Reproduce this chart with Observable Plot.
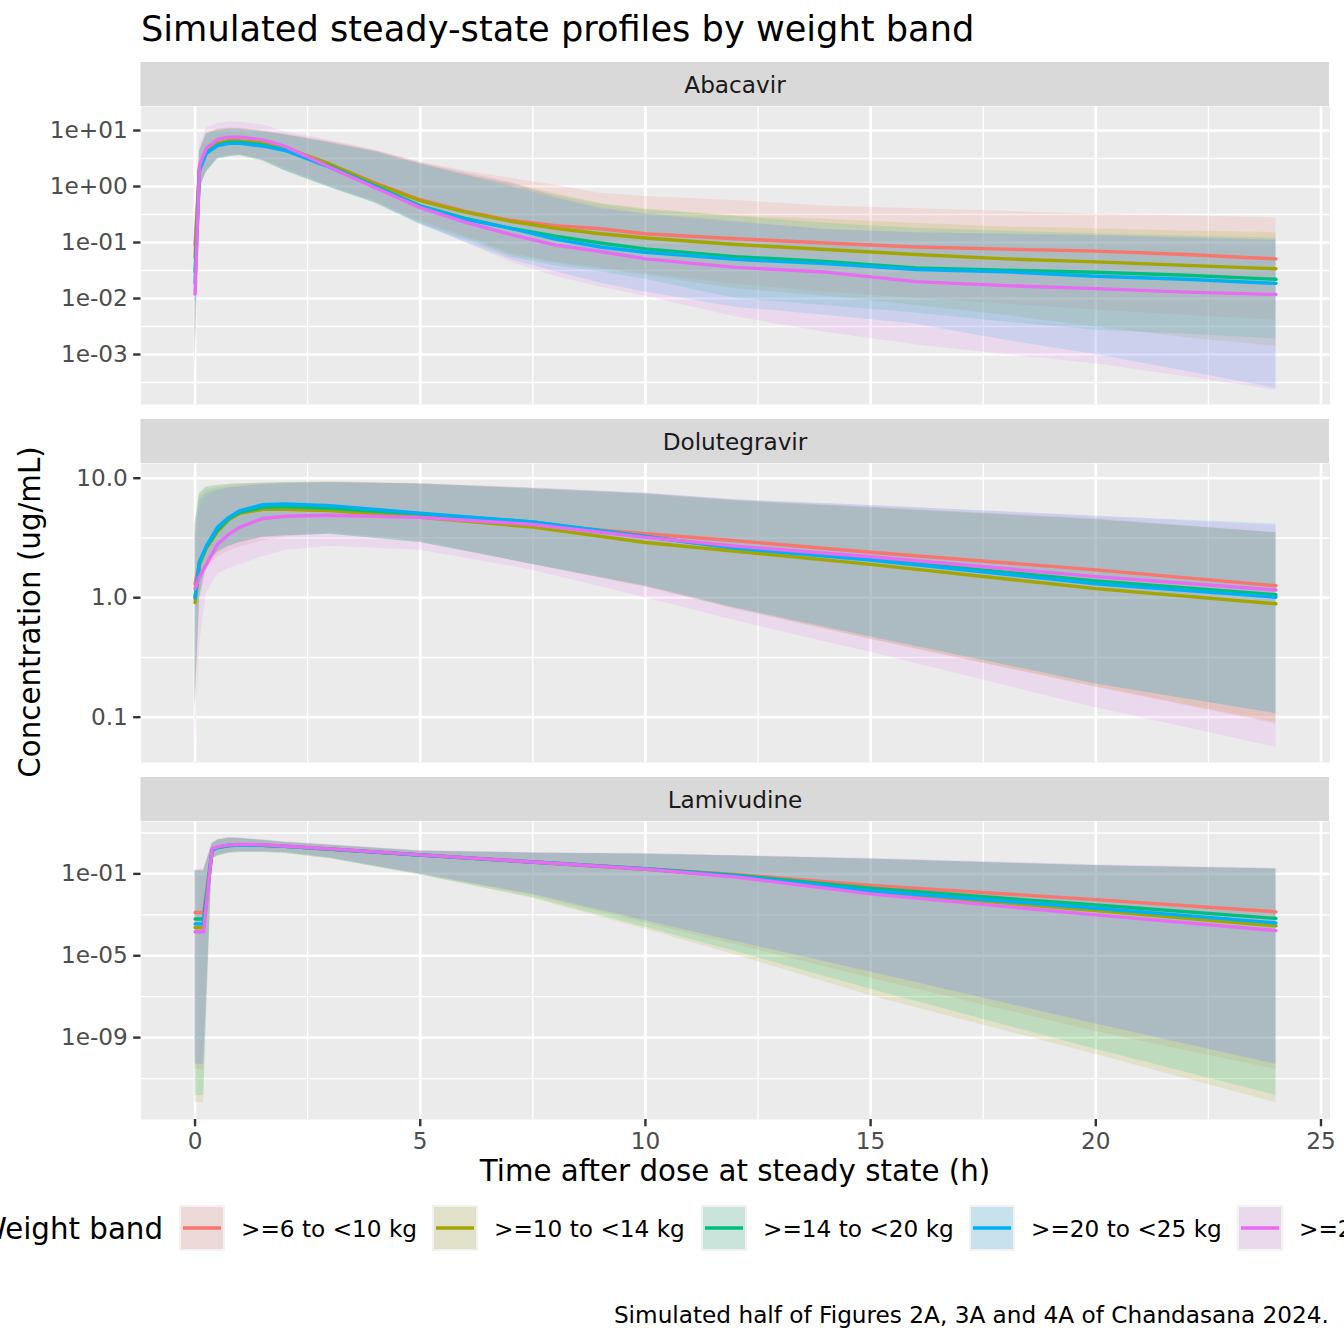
<!DOCTYPE html>
<html><head><meta charset="utf-8">
<script src="https://cdn.jsdelivr.net/npm/d3@7"></script>
<script src="https://cdn.jsdelivr.net/npm/@observablehq/plot@0.6"></script>
<style>
html,body{margin:0;padding:0;background:#fff;overflow:hidden;}
#root{position:relative;width:1344px;height:1344px;overflow:hidden;background:#fff;}
</style></head><body><div id="root"></div>
<script>
// ---------- categories ----------
const bands = [">=6 to <10 kg", ">=10 to <14 kg", ">=14 to <20 kg", ">=20 to <25 kg", ">=25 to <35 kg"];
const bandColors = ["#F8766D", "#A3A500", "#00BF7D", "#00B0F6", "#E76BF3"];
const drugs = ["Abacavir", "Dolutegravir", "Lamivudine"];
const xTicks = [0, 5, 10, 15, 20, 25];
const xMinorTicks = [2.5, 7.5, 12.5, 17.5, 22.5];

// ---------- Abacavir ----------
const abacavirTime = [0, 0.1, 0.25, 0.5, 0.75, 1, 1.5, 2, 3, 4, 5, 6, 7, 8, 9, 10, 12, 14, 16, 18, 20, 22, 24];
const abacavirMedian = [
  [0.09, 2.2, 4.5, 5.9, 6.5, 6.4, 6.0, 4.9, 2.5, 1.15, 0.58, 0.36, 0.25, 0.20, 0.176, 0.143, 0.117, 0.098, 0.083, 0.076, 0.070, 0.061, 0.051],
  [0.054, 2.2, 4.5, 5.9, 6.6, 6.5, 6.1, 4.9, 2.5, 1.12, 0.56, 0.35, 0.24, 0.18, 0.143, 0.12, 0.092, 0.075, 0.061, 0.051, 0.045, 0.039, 0.034],
  [0.03, 2.0, 4.0, 5.5, 6.1, 6.1, 5.5, 4.5, 2.3, 1.02, 0.45, 0.27, 0.18, 0.13, 0.098, 0.077, 0.056, 0.046, 0.035, 0.032, 0.0295, 0.026, 0.022],
  [0.019, 2.0, 3.9, 5.4, 5.9, 5.9, 5.3, 4.4, 2.2, 1.0, 0.44, 0.26, 0.18, 0.115, 0.083, 0.067, 0.050, 0.042, 0.033, 0.030, 0.025, 0.022, 0.0186],
  [0.012, 2.4, 4.8, 6.9, 7.6, 7.6, 6.8, 5.2, 2.2, 0.95, 0.42, 0.23, 0.14, 0.09, 0.069, 0.051, 0.036, 0.0296, 0.020, 0.017, 0.015, 0.013, 0.0118]
];
const abacavirUpper = [
  [0.3, 4.4, 9.0, 10.5, 11, 11, 10, 8.7, 6.4, 4.4, 2.7, 1.9, 1.4, 1.05, 0.76, 0.66, 0.56, 0.45, 0.40, 0.36, 0.32, 0.30, 0.275],
  [0.25, 4.4, 9.0, 10.5, 11, 10.8, 9.8, 8.5, 6.2, 4.3, 2.6, 1.7, 1.15, 0.75, 0.50, 0.40, 0.30, 0.26, 0.22, 0.19, 0.176, 0.16, 0.15],
  [0.2, 4.2, 8.5, 10, 10.5, 10.5, 9.5, 8.3, 6.0, 4.2, 2.5, 1.6, 1.1, 0.7, 0.48, 0.38, 0.29, 0.22, 0.18, 0.16, 0.143, 0.13, 0.12],
  [0.15, 4.2, 8.5, 10, 10.5, 10.5, 9.5, 8.3, 6.0, 4.1, 2.5, 1.6, 1.0, 0.62, 0.40, 0.32, 0.23, 0.17, 0.15, 0.14, 0.133, 0.12, 0.11],
  [0.15, 5.5, 11, 13.5, 14, 14, 12.5, 9.5, 6.6, 4.5, 2.7, 1.8, 1.2, 0.65, 0.42, 0.33, 0.24, 0.17, 0.15, 0.14, 0.133, 0.12, 0.11]
];
const abacavirLower = [
  [0.002, 1.0, 1.9, 3.3, 3.6, 3.7, 3.0, 2.1, 1.0, 0.55, 0.24, 0.13, 0.065, 0.045, 0.035, 0.028, 0.018, 0.013, 0.010, 0.008, 0.0062, 0.005, 0.0041],
  [0.001, 0.9, 1.8, 3.1, 3.4, 3.5, 2.8, 1.9, 0.95, 0.52, 0.22, 0.12, 0.06, 0.042, 0.033, 0.026, 0.015, 0.011, 0.0075, 0.005, 0.0031, 0.002, 0.0014],
  [0.0008, 0.9, 1.8, 3.1, 3.4, 3.6, 2.9, 1.9, 0.95, 0.50, 0.21, 0.11, 0.055, 0.038, 0.03, 0.022, 0.010, 0.0075, 0.0055, 0.0038, 0.0027, 0.0023, 0.0019],
  [0.0005, 0.9, 1.8, 3.1, 3.4, 3.6, 2.9, 1.9, 0.95, 0.50, 0.21, 0.10, 0.05, 0.03, 0.019, 0.013, 0.007, 0.005, 0.0035, 0.0018, 0.001, 0.0005, 0.00025],
  [0.0004, 0.9, 1.9, 3.2, 3.5, 3.7, 3.0, 2.0, 1.0, 0.52, 0.22, 0.10, 0.045, 0.025, 0.016, 0.011, 0.0047, 0.0025, 0.0015, 0.001, 0.00068, 0.0004, 0.00023]
];
const abacavirTicks = [1e-3, 1e-2, 1e-1, 1, 10];
const abacavirTickLabels = ["1e-03", "1e-02", "1e-01", "1e+00", "1e+01"];

// ---------- Dolutegravir ----------
const dolutegravirTime = [0, 0.1, 0.25, 0.5, 0.75, 1, 1.5, 2, 3, 5, 7.5, 10, 12, 15, 20, 24];
const dolutegravirMedian = [
  [1.3, 2.0, 2.6, 3.6, 4.5, 5.1, 5.5, 5.5, 5.4, 5.0, 4.1, 3.43, 3.0, 2.4, 1.71, 1.26],
  [0.91, 1.9, 2.6, 3.6, 4.5, 5.1, 5.5, 5.5, 5.37, 4.7, 3.9, 2.9, 2.45, 1.9, 1.19, 0.89],
  [1.0, 2.0, 2.65, 3.7, 4.6, 5.2, 5.7, 5.8, 5.6, 5.0, 4.3, 3.25, 2.6, 2.1, 1.38, 1.06],
  [1.0, 2.0, 2.7, 3.9, 4.7, 5.36, 6.0, 6.1, 5.9, 5.1, 4.3, 3.25, 2.6, 2.07, 1.31, 1.01],
  [1.19, 1.5, 1.9, 2.8, 3.4, 3.9, 4.6, 4.8, 4.9, 4.7, 4.1, 3.2, 2.7, 2.2, 1.5, 1.16]
];
const dolutegravirUpper = [
  [4.0, 7.0, 8.0, 8.3, 8.6, 8.8, 9.0, 9.1, 9.3, 9.0, 8.2, 7.4, 6.5, 5.7, 4.6, 3.5],
  [4.2, 7.5, 8.5, 8.7, 8.9, 9.0, 9.1, 9.2, 9.3, 9.0, 8.2, 7.4, 6.5, 5.7, 4.5, 3.5],
  [4.2, 7.5, 8.4, 8.7, 8.9, 9.0, 9.1, 9.2, 9.2, 8.9, 8.1, 7.3, 6.4, 5.6, 4.5, 3.5],
  [3.5, 6.5, 7.5, 8.0, 8.3, 8.5, 8.8, 9.0, 9.2, 8.9, 8.2, 7.5, 6.6, 5.9, 4.8, 4.15],
  [3.0, 5.5, 7.0, 7.8, 8.2, 8.5, 8.8, 9.0, 9.2, 9.0, 8.3, 7.5, 6.6, 5.9, 4.8, 4.0]
];
const dolutegravirLower = [
  [0.12, 0.9, 1.7, 2.2, 2.45, 2.65, 3.0, 3.2, 3.5, 3.0, 1.9, 1.23, 0.81, 0.45, 0.178, 0.088],
  [0.12, 1.0, 1.9, 2.4, 2.7, 2.9, 3.2, 3.3, 3.4, 2.9, 1.9, 1.23, 0.8, 0.45, 0.18, 0.09],
  [0.12, 1.0, 1.9, 2.4, 2.7, 2.9, 3.2, 3.3, 3.4, 2.9, 1.9, 1.25, 0.82, 0.47, 0.19, 0.107],
  [0.12, 1.0, 1.9, 2.4, 2.7, 2.9, 3.2, 3.3, 3.4, 2.9, 1.9, 1.25, 0.82, 0.47, 0.19, 0.107],
  [0.05, 0.4, 1.08, 1.58, 1.75, 1.9, 2.2, 2.5, 2.7, 2.5, 1.7, 1.0, 0.64, 0.35, 0.12, 0.056]
];
const dolutegravirTicks = [0.1, 1, 10];
const dolutegravirTickLabels = ["0.1", "1.0", "10.0"];

// ---------- Lamivudine ----------
const lamivudineTime = [0, 0.19, 0.38, 0.5, 0.75, 1, 1.5, 2, 3, 5, 7.5, 10, 12, 15, 20, 24];
const lamivudineMedian = [
  [1.3e-3, 1.3e-3, 1.6, 2.0, 2.5, 2.65, 2.55, 2.25, 1.65, 0.86, 0.39, 0.18, 0.095, 0.027, 0.0055, 0.0014],
  [2.4e-4, 2.4e-4, 1.5, 1.95, 2.45, 2.6, 2.5, 2.2, 1.6, 0.83, 0.37, 0.17, 0.076, 0.0135, 0.0016, 2.9e-4],
  [6.3e-4, 6.3e-4, 1.5, 1.95, 2.45, 2.6, 2.5, 2.2, 1.62, 0.84, 0.38, 0.178, 0.087, 0.020, 0.003, 6.7e-4],
  [3.6e-4, 3.6e-4, 1.5, 1.95, 2.45, 2.6, 2.5, 2.2, 1.62, 0.84, 0.38, 0.175, 0.079, 0.015, 0.0021, 4e-4],
  [1.5e-4, 1.5e-4, 1.7, 2.1, 2.6, 2.75, 2.65, 2.3, 1.66, 0.85, 0.38, 0.17, 0.071, 0.0105, 0.001, 1.7e-4]
];
const lamivudineUpper = [
  [0.145, 0.145, 3.0, 4.5, 5.6, 5.4, 4.4, 3.5, 2.5, 1.3, 1.05, 0.93, 0.75, 0.53, 0.25, 0.17],
  [0.14, 0.14, 2.9, 4.4, 5.5, 5.3, 4.3, 3.4, 2.5, 1.28, 1.03, 0.92, 0.74, 0.52, 0.25, 0.17],
  [0.14, 0.14, 2.9, 4.4, 5.5, 5.3, 4.3, 3.4, 2.5, 1.28, 1.03, 0.92, 0.74, 0.52, 0.25, 0.17],
  [0.15, 0.15, 3.0, 4.5, 5.6, 5.4, 4.4, 3.5, 2.5, 1.3, 1.05, 0.95, 0.76, 0.54, 0.26, 0.176],
  [0.17, 0.17, 3.3, 4.9, 6.0, 5.8, 4.7, 3.7, 2.7, 1.4, 1.12, 1.0, 0.8, 0.58, 0.28, 0.19]
];
const lamivudineLower = [
  [2.8e-11, 2.8e-11, 0.56, 0.79, 1.1, 1.2, 1.2, 1.1, 0.6, 0.1, 0.0089, 4e-4, 3.5e-5, 7.9e-7, 2e-9, 2.8e-11],
  [6.6e-13, 6.6e-13, 0.5, 0.72, 1.0, 1.1, 1.1, 1.0, 0.55, 0.089, 0.0063, 2e-4, 1.1e-5, 1.1e-7, 1.5e-10, 6.6e-13],
  [1.5e-12, 1.5e-12, 0.5, 0.72, 1.0, 1.1, 1.1, 1.0, 0.55, 0.089, 0.0071, 2.5e-4, 1.6e-5, 2.3e-7, 2.7e-10, 1.5e-12],
  [5e-11, 5e-11, 0.56, 0.79, 1.1, 1.2, 1.2, 1.1, 0.6, 0.1, 0.01, 5.1e-4, 5e-5, 1.6e-6, 4.6e-9, 5e-11],
  [5e-11, 5e-11, 0.6, 0.82, 1.1, 1.2, 1.2, 1.1, 0.6, 0.1, 0.01, 5.1e-4, 5e-5, 1.6e-6, 4.6e-9, 5e-11]
];
const lamivudineTicks = [1e-9, 1e-5, 1e-1];
const lamivudineTickLabels = ["1e-09", "1e-05", "1e-01"];

// ---------- texts ----------
const titleText = "Simulated steady-state profiles by weight band";
const xTitle = "Time after dose at steady state (h)";
const yTitle = "Concentration (ug/mL)";
const legendTitle = "Weight band";
const captionText = "Simulated half of Figures 2A, 3A and 4A of Chandasana 2024.";

// ---------- build ----------
function rows(time, med, lo, hi) {
  const out = [];
  bands.forEach((b, i) => time.forEach((t, j) => out.push({t, band: b, med: med[i][j], lo: lo[i][j], hi: hi[i][j]})));
  return out;
}
const FONT = '"DejaVu Sans", sans-serif';
const root = document.getElementById("root");

const panels = [
  {data: rows(abacavirTime, abacavirMedian, abacavirLower, abacavirUpper),
   logDomain: [-3.893, 1.4286], ticks: abacavirTicks, labels: abacavirTickLabels, top: 106, h: 298},
  {data: rows(dolutegravirTime, dolutegravirMedian, dolutegravirLower, dolutegravirUpper),
   logDomain: [-1.379, 1.123], ticks: dolutegravirTicks, labels: dolutegravirTickLabels, top: 463, h: 299},
  {data: rows(lamivudineTime, lamivudineMedian, lamivudineLower, lamivudineUpper),
   logDomain: [-13.0, 1.56], ticks: lamivudineTicks, labels: lamivudineTickLabels, top: 821, h: 298, showX: true}
];

panels.forEach(p => {
  const lt = p.ticks.map(Math.log10);
  const step = lt.length > 1 ? lt[1] - lt[0] : 1;
  const minor = [];
  for (let k = lt[0] - step / 2; k <= p.logDomain[1]; k += step) {
    if (k >= p.logDomain[0]) minor.push(10 ** k);
  }
  const mb = p.showX ? 46 : 0;
  const chart = Plot.plot({
    width: 1344, height: p.h + mb,
    marginLeft: 140.5, marginRight: 14.5, marginTop: 0, marginBottom: mb,
    style: {fontFamily: FONT, background: "transparent", overflow: "visible"},
    x: {domain: [-1.2, 25.2], axis: null},
    y: {type: "log", domain: p.logDomain.map(v => 10 ** v), axis: null},
    color: {domain: bands, range: bandColors},
    marks: [
      Plot.frame({fill: "#EBEBEB", stroke: "none"}),
      Plot.ruleY(minor, {stroke: "white", strokeWidth: 1.35}),
      Plot.ruleX(xMinorTicks, {stroke: "white", strokeWidth: 1.35}),
      Plot.ruleY(p.ticks, {stroke: "white", strokeWidth: 2.7}),
      Plot.ruleX(xTicks, {stroke: "white", strokeWidth: 2.7}),
      Plot.areaY(p.data, {x: "t", y1: "lo", y2: "hi", fill: "band", fillOpacity: 0.15, clip: true}),
      Plot.lineY(p.data, {x: "t", y: "med", stroke: "band", strokeWidth: 3.4, clip: true}),
      Plot.axisY({ticks: p.ticks, tickFormat: d => p.labels[p.ticks.indexOf(d)], tickSize: 7.3, tickPadding: 5.9,
        fontSize: 23.2, stroke: "#333333", fill: "#4D4D4D", strokeWidth: 2.4, label: null}),
      p.showX ? Plot.axisX({ticks: xTicks, tickFormat: d => String(d), tickSize: 7.3, tickPadding: 5.9,
        fontSize: 23.2, stroke: "#333333", fill: "#4D4D4D", strokeWidth: 2.4, label: null}) : null
    ]
  });
  chart.style.position = "absolute";
  chart.style.left = "0px";
  chart.style.top = p.top + "px";
  root.appendChild(chart);
});

// ---------- overlay: strips, titles, legend, caption ----------
const svg = d3.select(root).append("svg")
  .attr("width", 1344).attr("height", 1344)
  .style("position", "absolute").style("left", "0px").style("top", "0px").style("overflow", "visible")
  .attr("font-family", FONT);

svg.append("text").attr("x", 141).attr("y", 41).attr("font-size", 35.2).attr("fill", "#000").text(titleText);

const stripTops = [62, 419, 777];
stripTops.forEach((y, i) => {
  svg.append("rect").attr("x", 140.5).attr("y", y).attr("width", 1188.5).attr("height", 44).attr("fill", "#D9D9D9");
  svg.append("text").attr("x", 735).attr("y", y + 30.5).attr("text-anchor", "middle")
    .attr("font-size", 23.2).attr("fill", "#1A1A1A").text(drugs[i]);
});

svg.append("text").attr("x", 735).attr("y", 1181).attr("text-anchor", "middle").attr("font-size", 29.3).text(xTitle);
svg.append("text").attr("transform", "translate(40,612) rotate(-90)").attr("text-anchor", "middle")
  .attr("font-size", 29.3).text(yTitle);

// legend (centred layout as in the reference; it overflows the page on both sides)
svg.append("text").attr("x", 163).attr("y", 1238.5).attr("text-anchor", "end").attr("font-size", 29.3).text(legendTitle);
const keyLefts = [179, 432, 701, 969, 1237];
bands.forEach((b, i) => {
  const kx = keyLefts[i];
  const g = svg.append("g");
  g.append("rect").attr("x", kx).attr("y", 1205).attr("width", 46).attr("height", 46).attr("fill", "#F2F2F2");
  g.append("rect").attr("x", kx + 2).attr("y", 1207).attr("width", 42).attr("height", 42).attr("fill", "#EBEBEB");
  g.append("rect").attr("x", kx + 2).attr("y", 1207).attr("width", 42).attr("height", 42)
    .attr("fill", bandColors[i]).attr("fill-opacity", 0.15);
  g.append("line").attr("x1", kx + 4).attr("x2", kx + 42).attr("y1", 1228).attr("y2", 1228)
    .attr("stroke", bandColors[i]).attr("stroke-width", 3.4);
  g.append("text").attr("x", kx + 62).attr("y", 1236.5).attr("font-size", 23.2).text(b);
});

svg.append("text").attr("x", 1329).attr("y", 1323).attr("text-anchor", "end").attr("font-size", 23.2).text(captionText);
</script>
</body></html>
